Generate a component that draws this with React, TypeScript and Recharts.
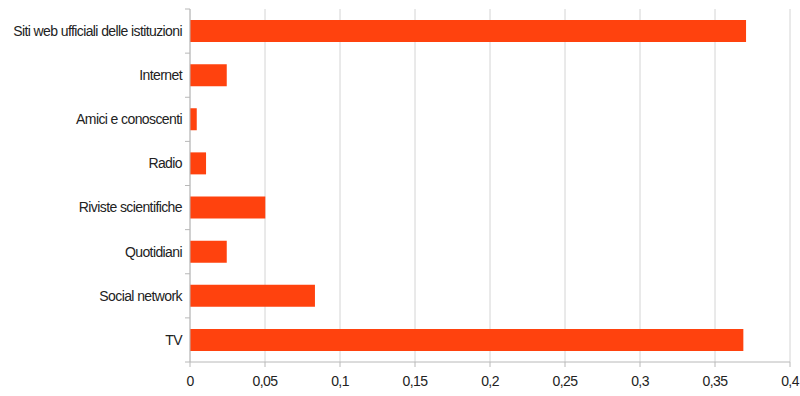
import { BarChart, Bar, XAxis, YAxis, CartesianGrid } from 'recharts';

const categories = [
  'Siti web ufficiali delle istituzioni',
  'Internet',
  'Amici e conoscenti',
  'Radio',
  'Riviste scientifiche',
  'Quotidiani',
  'Social network',
  'TV',
];
const values = [0.3707, 0.0245, 0.0045, 0.0107, 0.0502, 0.0245, 0.0833, 0.3689];
const xTicks = [0, 0.05, 0.1, 0.15, 0.2, 0.25, 0.3, 0.35, 0.4];

const data = categories.map((name, i) => ({ name, value: values[i] }));

const W = 800;
const H = 396;
const TOP = 9;
const BOTTOM = 34;
const BAND = (H - TOP - BOTTOM) / categories.length;
const AXIS = '#b8b8b8';

const CategoryTick = (props: any) => {
  const { x, y, payload, index } = props;
  const axisX = x + 8;
  return (
    <g>
      <line x1={axisX - 5} x2={axisX} y1={y - BAND / 2} y2={y - BAND / 2} stroke={AXIS} />
      {index === categories.length - 1 && (
        <line x1={axisX - 5} x2={axisX} y1={y + BAND / 2} y2={y + BAND / 2} stroke={AXIS} />
      )}
      <text
        x={x}
        y={y}
        dy="0.35em"
        textAnchor="end"
        fill="#222"
        fontSize={14}
        letterSpacing={-0.6}
      >
        {payload.value}
      </text>
    </g>
  );
};

export default function App() {
  return (
    <div style={{ width: W, height: H }}>
      <style>{'body{margin:0}'}</style>
      <BarChart
        width={W}
        height={H}
        data={data}
        layout="vertical"
        margin={{ top: TOP, right: 10, bottom: 0, left: 0 }}
        barCategoryGap="25%"
        style={{ fontFamily: '"Liberation Sans", Arial, sans-serif' }}
      >
        <CartesianGrid horizontal={false} stroke="#d4d4d4" />
        <XAxis
          type="number"
          domain={[0, 0.4]}
          ticks={xTicks}
          height={BOTTOM}
          interval={0}
          stroke={AXIS}
          tickSize={5}
          tickMargin={9}
          tick={{ fill: '#222', fontSize: 14, letterSpacing: -0.6 }}
          tickFormatter={(v: number) => String(v).replace('.', ',')}
        />
        <XAxis
          xAxisId="top"
          orientation="top"
          type="number"
          domain={[0, 0.4]}
          height={0}
          tick={false}
          tickLine={false}
          stroke="#d4d4d4"
        />
        <YAxis
          type="category"
          dataKey="name"
          width={190}
          stroke={AXIS}
          tickLine={false}
          interval={0}
          tick={<CategoryTick />}
        />
        <Bar dataKey="value" fill="#ff420e" barSize={22} isAnimationActive={false} />
      </BarChart>
    </div>
  );
}
